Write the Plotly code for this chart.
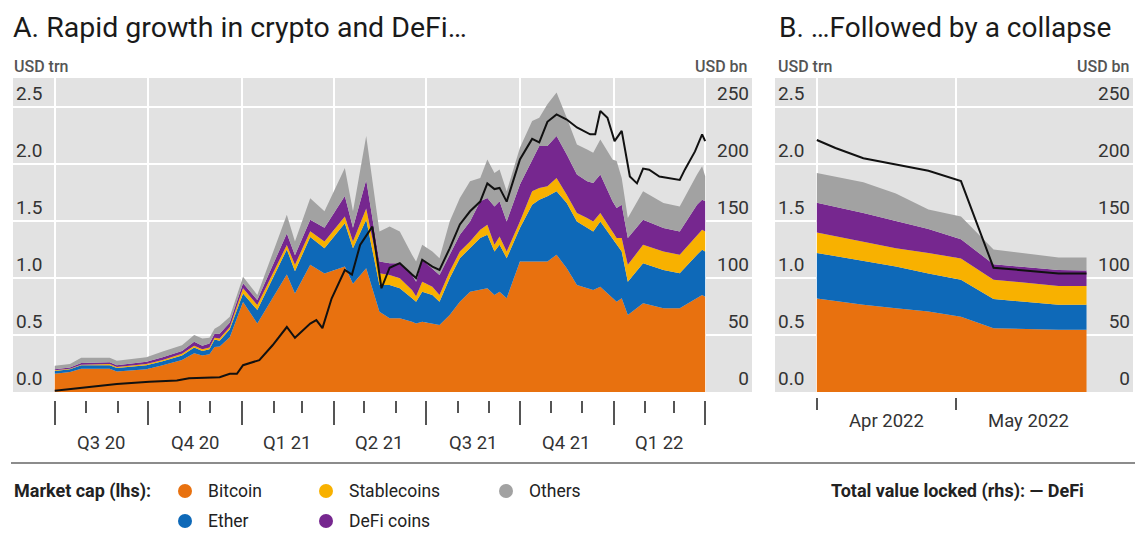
import plotly.graph_objects as go
import pandas as pd

# The page body adds an 8 px margin, so the figure is drawn 8 px smaller
# and every pixel position below is given in window pixels.
OFF = 8
FW, FH = 1143 - OFF, 533 - OFF

# ---------------- Panel A data (USD trn, market cap by segment) ----------------
dates_a = [
    "2020-07-01", "2020-07-16", "2020-07-27", "2020-08-24", "2020-08-31", "2020-09-12",
    "2020-09-29", "2020-10-15", "2020-11-03", "2020-11-15", "2020-11-23", "2020-11-30",
    "2020-12-05", "2020-12-10", "2020-12-20", "2021-01-02", "2021-01-16", "2021-02-14",
    "2021-02-22", "2021-03-09", "2021-03-23", "2021-04-12", "2021-04-20", "2021-05-03",
    "2021-05-16", "2021-05-26", "2021-06-05", "2021-06-17", "2021-06-21", "2021-06-27",
    "2021-07-07", "2021-07-14", "2021-07-24", "2021-08-03", "2021-08-13", "2021-08-23",
    "2021-08-30", "2021-09-06", "2021-09-11", "2021-09-18", "2021-10-01", "2021-10-13",
    "2021-10-20", "2021-10-28", "2021-11-06", "2021-11-16", "2021-11-26", "2021-12-06",
    "2021-12-12", "2021-12-19", "2021-12-31", "2022-01-04", "2022-01-09", "2022-01-15",
    "2022-01-30", "2022-02-19", "2022-03-07", "2022-03-24", "2022-03-29", "2022-04-01",
]
bitcoin_a = [
    0.160, 0.175, 0.205, 0.205, 0.180, 0.190, 0.200, 0.235, 0.280, 0.340, 0.320, 0.330,
    0.395, 0.400, 0.480, 0.790, 0.600, 1.030, 0.865, 1.115, 1.040, 1.100, 0.950, 1.085,
    0.704, 0.646, 0.646, 0.616, 0.601, 0.616, 0.601, 0.587, 0.675, 0.792, 0.880, 0.895,
    0.910, 0.851, 0.880, 0.822, 1.144, 1.144, 1.144, 1.144, 1.203, 1.086, 0.939, 0.910,
    0.895, 0.924, 0.822, 0.792, 0.822, 0.675, 0.778, 0.734, 0.734, 0.822, 0.851, 0.836,
]
ether_a = [
    0.025, 0.025, 0.030, 0.030, 0.030, 0.030, 0.035, 0.035, 0.040, 0.050, 0.040, 0.045,
    0.065, 0.050, 0.070, 0.075, 0.120, 0.220, 0.195, 0.245, 0.220, 0.380, 0.310, 0.425,
    0.235, 0.293, 0.264, 0.206, 0.191, 0.264, 0.250, 0.205, 0.322, 0.382, 0.382, 0.455,
    0.469, 0.381, 0.411, 0.352, 0.294, 0.499, 0.543, 0.573, 0.557, 0.572, 0.557, 0.528,
    0.513, 0.572, 0.528, 0.499, 0.410, 0.293, 0.352, 0.337, 0.308, 0.381, 0.396, 0.396,
]
stablecoins_a = [
    0.005, 0.005, 0.005, 0.010, 0.010, 0.010, 0.010, 0.010, 0.015, 0.015, 0.015, 0.015,
    0.015, 0.020, 0.020, 0.045, 0.043, 0.040, 0.055, 0.050, 0.060, 0.060, 0.060, 0.100,
    0.103, 0.088, 0.087, 0.073, 0.048, 0.088, 0.073, 0.059, 0.059, 0.058, 0.058, 0.073,
    0.088, 0.059, 0.073, 0.058, 0.058, 0.117, 0.103, 0.088, 0.118, 0.073, 0.074, 0.088,
    0.088, 0.074, 0.058, 0.059, 0.118, 0.147, 0.161, 0.161, 0.161, 0.176, 0.176, 0.176,
]
defi_coins_a = [
    0.010, 0.010, 0.015, 0.015, 0.015, 0.020, 0.020, 0.025, 0.025, 0.035, 0.030, 0.035,
    0.035, 0.040, 0.040, 0.043, 0.044, 0.100, 0.085, 0.100, 0.120, 0.180, 0.120, 0.250,
    0.102, 0.103, 0.133, 0.132, 0.128, 0.191, 0.162, 0.176, 0.147, 0.147, 0.176, 0.250,
    0.235, 0.337, 0.309, 0.264, 0.323, 0.265, 0.367, 0.352, 0.367, 0.352, 0.337, 0.323,
    0.338, 0.337, 0.265, 0.264, 0.293, 0.235, 0.220, 0.206, 0.205, 0.264, 0.264, 0.265,
]
others_a = [
    0.030, 0.030, 0.045, 0.040, 0.040, 0.040, 0.040, 0.050, 0.050, 0.060, 0.065, 0.050,
    0.045, 0.070, 0.050, 0.057, 0.044, 0.165, 0.120, 0.190, 0.145, 0.245, 0.145, 0.385,
    0.264, 0.322, 0.278, 0.176, 0.176, 0.132, 0.146, 0.147, 0.293, 0.323, 0.353, 0.205,
    0.337, 0.292, 0.278, 0.264, 0.323, 0.352, 0.249, 0.367, 0.381, 0.323, 0.264, 0.278,
    0.264, 0.308, 0.366, 0.411, 0.235, 0.176, 0.249, 0.220, 0.220, 0.264, 0.293, 0.220,
]

# DeFi total value locked (USD bn), panel A
tvl_dates_a = [
    "2020-07-01", "2020-07-28", "2020-08-31", "2020-10-02", "2020-10-29", "2020-11-10",
    "2020-11-30", "2020-12-10", "2020-12-20", "2020-12-27", "2021-01-02", "2021-01-18",
    "2021-01-31", "2021-02-14", "2021-02-22", "2021-03-09", "2021-03-15", "2021-03-21",
    "2021-03-30", "2021-04-12", "2021-04-19", "2021-04-27", "2021-05-09", "2021-05-18",
    "2021-05-26", "2021-06-05", "2021-06-17", "2021-06-21", "2021-06-27", "2021-07-07",
    "2021-07-14", "2021-07-24", "2021-08-03", "2021-08-13", "2021-08-23", "2021-08-30",
    "2021-09-06", "2021-09-11", "2021-09-18", "2021-10-01", "2021-10-13", "2021-10-20",
    "2021-10-28", "2021-11-06", "2021-11-16", "2021-11-26", "2021-12-09", "2021-12-14",
    "2021-12-19", "2021-12-26", "2022-01-02", "2022-01-09", "2022-01-17", "2022-01-24",
    "2022-01-30", "2022-02-05", "2022-02-15", "2022-03-07", "2022-03-12", "2022-03-22",
    "2022-03-29", "2022-04-01",
]
tvl_a = [
    1, 3.5, 7, 9, 10, 12,
    13, 13, 16, 16, 23.5, 28,
    41, 57, 47.5, 60, 63, 56,
    82, 107, 103, 129, 145, 91,
    109, 113, 103, 100, 116, 110,
    107, 126, 147, 158.5, 167, 183,
    178, 179, 167, 204, 222, 219,
    237, 243.5, 239, 232, 226, 226,
    246.5, 240.6, 220, 229, 189, 183,
    196, 195, 189, 186, 195, 211,
    226, 220,
]

# ---------------- Panel B data ----------------
dates_b = ["2022-04-01", "2022-04-11", "2022-04-18", "2022-04-25",
           "2022-05-02", "2022-05-09", "2022-05-23", "2022-05-29"]
bitcoin_b = [0.820, 0.765, 0.735, 0.706, 0.660, 0.560, 0.545, 0.545]
ether_b = [0.400, 0.385, 0.365, 0.334, 0.325, 0.255, 0.220, 0.220]
stablecoins_b = [0.180, 0.170, 0.160, 0.180, 0.185, 0.170, 0.165, 0.165]
defi_coins_b = [0.260, 0.250, 0.240, 0.210, 0.170, 0.135, 0.140, 0.135]
others_b = [0.260, 0.270, 0.240, 0.170, 0.200, 0.130, 0.110, 0.115]

tvl_dates_b = ["2022-04-01", "2022-04-05", "2022-04-11", "2022-04-25",
               "2022-05-02", "2022-05-09", "2022-05-23", "2022-05-29"]
tvl_b = [221, 214, 205, 194, 185, 109, 104, 104]

# ---------------- Labels ----------------
series_names = ["Bitcoin", "Ether", "Stablecoins", "DeFi coins", "Others"]
series_colors = ["#E8710F", "#0E69B8", "#F8B100", "#76278F", "#A2A2A2"]
quarter_labels = ["Q3 20", "Q4 20", "Q1 21", "Q2 21", "Q3 21", "Q4 21", "Q1 22"]
month_labels_b = ["Apr 2022", "May 2022"]
lhs_ticks = [0.0, 0.5, 1.0, 1.5, 2.0, 2.5]
rhs_ticks = [0, 50, 100, 150, 200, 250]
title_a = "A. Rapid growth in crypto and DeFi…"
title_b = "B. …Followed by a collapse"

FONT = "Roboto"
BG = "#E2E2E2"
TXT = "#333333"


def fx(p):
    return (p - OFF) / FW


def fy(p):
    return 1 - (p - OFF) / FH


fig = go.Figure()

series_a = [bitcoin_a, ether_a, stablecoins_a, defi_coins_a, others_a]
series_b = [bitcoin_b, ether_b, stablecoins_b, defi_coins_b, others_b]
for name, vals, col in zip(series_names, series_a, series_colors):
    fig.add_trace(go.Scatter(x=dates_a, y=vals, name=name, stackgroup="a", mode="lines",
                             line=dict(width=0, color=col), fillcolor=col,
                             showlegend=False, xaxis="x", yaxis="y", hoverinfo="skip"))
fig.add_trace(go.Scatter(x=tvl_dates_a, y=tvl_a, name="DeFi", mode="lines",
                         line=dict(color="#111111", width=2), showlegend=False,
                         xaxis="x", yaxis="y2"))
for name, vals, col in zip(series_names, series_b, series_colors):
    fig.add_trace(go.Scatter(x=dates_b, y=vals, name=name, stackgroup="b", mode="lines",
                             line=dict(width=0, color=col), fillcolor=col,
                             showlegend=False, xaxis="x2", yaxis="y3", hoverinfo="skip"))
fig.add_trace(go.Scatter(x=tvl_dates_b, y=tvl_b, name="DeFi", mode="lines",
                         line=dict(color="#111111", width=2), showlegend=False,
                         xaxis="x2", yaxis="y4"))

# tick positions
q_starts = pd.date_range("2020-07-01", "2022-04-01", freq="QS")
m_starts = [d for d in pd.date_range("2020-07-01", "2022-04-01", freq="MS") if d not in q_starts]
b_month_starts = pd.date_range("2022-04-01", "2022-05-01", freq="MS")

ydom = [fy(392), fy(78)]
tick_font = dict(family=FONT, size=19, color=TXT)
common_y = dict(range=[0, 2.754], tickmode="array", tickvals=lhs_ticks,
                ticktext=[f"{v:.1f}" for v in lhs_ticks], ticklabelposition="inside top",
                showgrid=True, gridcolor="white", gridwidth=2, zeroline=False, ticks="",
                showline=False, tickfont=tick_font, domain=ydom)
common_y2 = dict(range=[0, 275.4], tickmode="array", tickvals=rhs_ticks,
                 ticktext=[str(v) for v in rhs_ticks], ticklabelposition="inside top",
                 showgrid=False, zeroline=False, ticks="", showline=False, side="right",
                 tickfont=tick_font)

fig.update_layout(
    width=FW, height=FH, margin=dict(l=0, r=0, t=0, b=0),
    paper_bgcolor="white", plot_bgcolor=BG, showlegend=False,
    font=dict(family=FONT, color=TXT),
    xaxis=dict(domain=[fx(13), fx(752)], range=["2020-05-21", "2022-05-17"], type="date",
               anchor="free", position=fy(400), tickmode="array", tickvals=list(q_starts),
               ticktext=[""] * len(q_starts), ticks="outside", ticklen=24,
               tickcolor="#555555", tickwidth=1.5, showgrid=True, gridcolor="white",
               gridwidth=2, zeroline=False, showline=False,
               minor=dict(tickmode="array", tickvals=m_starts, ticks="outside", ticklen=12,
                          tickcolor="#555555", tickwidth=1.5, showgrid=False)),
    yaxis=dict(anchor="x", **common_y),
    yaxis2=dict(anchor="x", overlaying="y", **common_y2),
    xaxis2=dict(domain=[fx(775), fx(1133)], range=["2022-03-23", "2022-06-08"], type="date",
                anchor="free", position=fy(397), tickmode="array",
                tickvals=list(b_month_starts), ticktext=[""] * len(b_month_starts),
                ticks="outside", ticklen=12, tickcolor="#555555", tickwidth=1.5,
                showgrid=True, gridcolor="white", gridwidth=2, zeroline=False,
                showline=False),
    yaxis3=dict(anchor="x2", **common_y),
    yaxis4=dict(anchor="x2", overlaying="y3", **common_y2),
)

ann = []
# titles
ann.append(dict(text=title_a, x=fx(11), y=fy(28), xref="paper", yref="paper",
                xanchor="left", yanchor="middle", showarrow=False,
                font=dict(family=FONT, size=28.5, color="#1a1a1a")))
ann.append(dict(text=title_b, x=fx(777), y=fy(28), xref="paper", yref="paper",
                xanchor="left", yanchor="middle", showarrow=False,
                font=dict(family=FONT, size=28, color="#1a1a1a")))
# unit labels
unit_font = dict(family=FONT, size=16, color="#555555", weight=500)
for txt, xp, anc in [("USD trn", 12, "left"), ("USD bn", 749, "right"),
                     ("USD trn", 776, "left"), ("USD bn", 1131, "right")]:
    ann.append(dict(text=txt, x=fx(xp), y=fy(67), xref="paper", yref="paper",
                    xanchor=anc, yanchor="middle", showarrow=False, font=unit_font))
# quarter labels (centred in each quarter)
for i, lab in enumerate(quarter_labels):
    mid = q_starts[i] + (q_starts[i + 1] - q_starts[i]) / 2
    ann.append(dict(text=lab, x=mid, y=fy(443), xref="x", yref="paper",
                    xanchor="center", yanchor="middle", showarrow=False,
                    font=dict(family=FONT, size=18.5, color=TXT)))
# month labels panel B
b_bounds = list(pd.date_range("2022-04-01", "2022-06-01", freq="MS"))
for i, lab in enumerate(month_labels_b):
    mid = b_bounds[i] + (b_bounds[i + 1] - b_bounds[i]) / 2
    ann.append(dict(text=lab, x=mid, y=fy(421), xref="x2", yref="paper",
                    xanchor="center", yanchor="middle", showarrow=False,
                    font=dict(family=FONT, size=18.5, color=TXT)))

# legend
leg_font = dict(family=FONT, size=17.5, color="#222222")
bold_font = dict(family=FONT, size=18, color="#222222")
ann.append(dict(text="<b>Market cap (lhs):</b>", x=fx(12), y=fy(491), xref="paper",
                yref="paper", xanchor="left", yanchor="middle", showarrow=False,
                font=bold_font))
ann.append(dict(text="<b>Total value locked (rhs): — DeFi</b>", x=fx(829), y=fy(491),
                xref="paper", yref="paper", xanchor="left", yanchor="middle",
                showarrow=False, font=bold_font))
legend_pos = {"Bitcoin": (185, 491), "Stablecoins": (326, 491), "Others": (506, 491),
              "Ether": (185, 521), "DeFi coins": (326, 521)}
shapes = []
for name, col in zip(series_names, series_colors):
    cx, cy = legend_pos[name]
    shapes.append(dict(type="circle", xref="paper", yref="paper",
                       x0=fx(cx - 7), x1=fx(cx + 7), y0=fy(cy + 7), y1=fy(cy - 7),
                       fillcolor=col, line=dict(width=0)))
    ann.append(dict(text=name, x=fx(cx + 21), y=fy(cy), xref="paper", yref="paper",
                    xanchor="left", yanchor="middle", showarrow=False, font=leg_font))
# separator line
shapes.append(dict(type="line", xref="paper", yref="paper", x0=fx(11), x1=1,
                   y0=fy(463), y1=fy(463), line=dict(color="#8C8C8C", width=2)))

fig.update_layout(annotations=ann, shapes=shapes)
fig.write_html("out.html")
